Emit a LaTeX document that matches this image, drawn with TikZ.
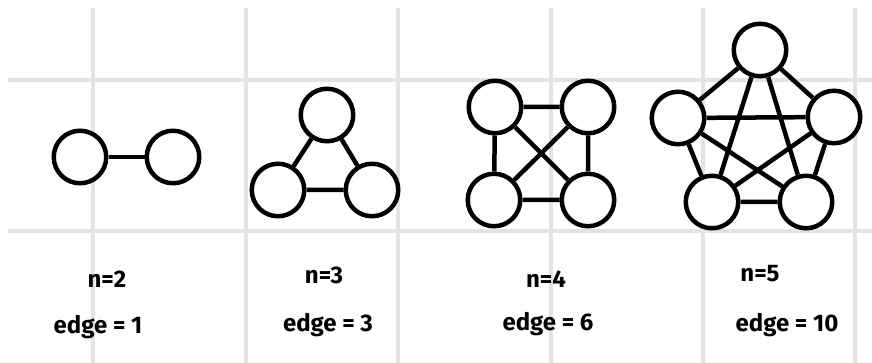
\documentclass[tikz,border=0pt]{standalone}
\usepackage{fontspec}
\setmainfont{Fira Sans}
\begin{document}
\begin{tikzpicture}[x=1pt,y=-1pt,
  gridline/.style={line width=4.5pt,color=gridgray},
  vtx/.style={circle,draw=black,line width=4.5pt,minimum size=52.5pt,inner sep=0pt,fill=white},
  edg/.style={line width=4.5pt,draw=black},
  lbl/.style={font=\bfseries\fontsize{24}{26}\selectfont,inner sep=0pt}]
\definecolor{gridgray}{HTML}{E3E3E3}
\useasboundingbox (0,0) rectangle (872,363);
\fill[white] (0,0) rectangle (872,363);
% grid
\foreach \gx in {93,246,398,551,703,855}
  \draw[gridline] (\gx,8) -- (\gx,363);
\foreach \gy in {80,231}
  \draw[gridline] (8,\gy) -- (872,\gy);
% n=2
\node[vtx] (a1) at (80,157) {};
\node[vtx] (a2) at (173,157) {};
\draw[edg] (a1) -- (a2);
% n=3
\node[vtx] (b1) at (327,115) {};
\node[vtx] (b2) at (278,190) {};
\node[vtx] (b3) at (372,190) {};
\draw[edg] (b1) -- (b2) (b1) -- (b3) (b2) -- (b3);
% n=4
\node[vtx] (c1) at (495,107) {};
\node[vtx] (c2) at (588,107) {};
\node[vtx] (c3) at (494,200) {};
\node[vtx] (c4) at (588,200) {};
\draw[edg] (c1) -- (c2) (c3) -- (c4) (c1) -- (c3) (c2) -- (c4) (c1) -- (c4) (c2) -- (c3);
% n=5
\node[vtx] (d1) at (760,50) {};
\node[vtx] (d2) at (678,118) {};
\node[vtx] (d3) at (834,117) {};
\node[vtx] (d4) at (712,202) {};
\node[vtx] (d5) at (806,202) {};
\draw[edg] (d1) -- (d2) (d1) -- (d3) (d2) -- (d4) (d3) -- (d5) (d4) -- (d5)
  (d1) -- (d4) (d1) -- (d5) (d2) -- (d3) (d2) -- (d5) (d3) -- (d4);
% labels
\node[lbl] (t1) at (107,279) {n=2};
\node[lbl] (e1) at (98,327) {edge = 1};
\node[lbl] (t2) at (324,275) {n=3};
\node[lbl] (e2) at (328,325) {edge = 3};
\node[lbl] (t3) at (546,279) {n=4};
\node[lbl] (e3) at (548,324) {edge = 6};
\node[lbl] (t4) at (760,274) {n=5};
\node[lbl] (e4) at (787,325) {edge = 10};
\end{tikzpicture}
\end{document}
